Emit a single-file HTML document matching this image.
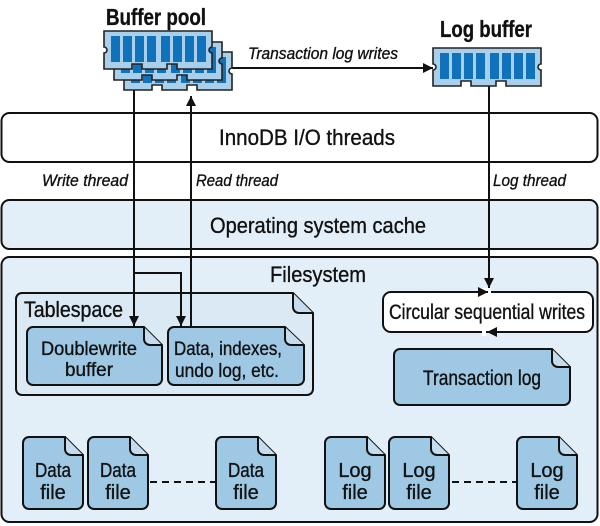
<!DOCTYPE html>
<html><head><meta charset="utf-8"><style>
html,body{margin:0;padding:0;background:#fff;}
svg{display:block;}
text{font-family:"Liberation Sans",sans-serif;fill:#111;stroke:#111;stroke-width:0.35;}
</style></head><body>
<svg width="600" height="526" viewBox="0 0 600 526" xmlns="http://www.w3.org/2000/svg">
<defs>
<marker id="ah" viewBox="0 0 10 10" refX="10" refY="5" markerWidth="10" markerHeight="10" markerUnits="userSpaceOnUse" orient="auto"><path d="M0,0 L10,5 L0,10 z" fill="#111"/></marker>
<g id="chip">
  <path d="M0,0 H108 V16 a3,3 0 0 0 0,6 V38 H73 V33 H63 V38 H38 V33 H28 V38 H0 V22 a3,3 0 0 0 0,-6 Z" fill="#a9cfea" stroke="#222" stroke-width="1.6"/>
  <rect x="7" y="5" width="9" height="26" fill="#0f72ba"/>
  <rect x="19" y="5" width="9" height="26" fill="#0f72ba"/>
  <rect x="31" y="5" width="9" height="26" fill="#0f72ba"/>
  <rect x="43" y="5" width="9" height="26" fill="#0f72ba"/>
  <rect x="57" y="5" width="9" height="26" fill="#0f72ba"/>
  <rect x="69" y="5" width="9" height="26" fill="#0f72ba"/>
  <rect x="81" y="5" width="9" height="26" fill="#0f72ba"/>
  <rect x="93" y="5" width="9" height="26" fill="#0f72ba"/>
</g>
</defs>

<rect x="1.5" y="113" width="596" height="49" rx="8" fill="#fff" stroke="#111" stroke-width="2"/>
<text x="307" y="145" font-size="22" text-anchor="middle" textLength="176" lengthAdjust="spacingAndGlyphs">InnoDB I/O threads</text>
<rect x="1.5" y="200" width="596" height="49" rx="8" fill="#e3eff8" stroke="#111" stroke-width="2"/>
<text x="318" y="233" font-size="22" text-anchor="middle" textLength="216" lengthAdjust="spacingAndGlyphs">Operating system cache</text>
<rect x="1.5" y="257" width="596" height="265" rx="8" fill="#e3eff8" stroke="#111" stroke-width="2"/>
<text x="318" y="282" font-size="22" text-anchor="middle" textLength="96" lengthAdjust="spacingAndGlyphs">Filesystem</text>

<text x="128" y="186" font-size="17" font-style="italic" text-anchor="end" textLength="86" lengthAdjust="spacingAndGlyphs">Write thread</text>
<text x="196" y="186" font-size="17" font-style="italic" textLength="82" lengthAdjust="spacingAndGlyphs">Read thread</text>
<text x="493" y="186" font-size="17" font-style="italic" textLength="73" lengthAdjust="spacingAndGlyphs">Log thread</text>

<path d="M22,293 H293 L313,313 V389 a6,6 0 0 1 -6,6 H22 a6,6 0 0 1 -6,-6 V299 a6,6 0 0 1 6,-6 Z" fill="#dbe9f4" stroke="#111" stroke-width="2"/>
<path d="M293,293 V307 a6,6 0 0 0 6,6 H313" fill="#c4dcee" stroke="#111" stroke-width="2"/>
<text x="24" y="317" font-size="22" textLength="99" lengthAdjust="spacingAndGlyphs">Tablespace</text>

<path d="M33,327 H144 L162,345 V379 a6,6 0 0 1 -6,6 H33 a6,6 0 0 1 -6,-6 V333 a6,6 0 0 1 6,-6 Z" fill="#9ec8e4" stroke="#111" stroke-width="2"/>
<path d="M144,327 V339 a6,6 0 0 0 6,6 H162" fill="#c4dcee" stroke="#111" stroke-width="2"/>
<text x="89" y="355" font-size="19" text-anchor="middle" textLength="96" lengthAdjust="spacingAndGlyphs">Doublewrite</text>
<text x="89" y="376" font-size="19" text-anchor="middle" textLength="48" lengthAdjust="spacingAndGlyphs">buffer</text>
<path d="M174,327 H285 L304,345 V379 a6,6 0 0 1 -6,6 H174 a6,6 0 0 1 -6,-6 V333 a6,6 0 0 1 6,-6 Z" fill="#9ec8e4" stroke="#111" stroke-width="2"/>
<path d="M285,327 V339 a6,6 0 0 0 6,6 H304" fill="#c4dcee" stroke="#111" stroke-width="2"/>
<text x="174" y="355" font-size="19" textLength="108" lengthAdjust="spacingAndGlyphs">Data, indexes,</text>
<text x="175" y="377" font-size="19" textLength="104" lengthAdjust="spacingAndGlyphs">undo log, etc.</text>

<rect x="383" y="292" width="210" height="40" rx="8" fill="#fff" stroke="#111" stroke-width="2"/>
<rect x="480" y="288" width="11" height="8" fill="#fff"/>
<rect x="482" y="328" width="4" height="8" fill="#fff"/>
<line x1="440" y1="292" x2="488" y2="292" stroke="#111" stroke-width="2" marker-end="url(#ah)"/>
<line x1="540" y1="332" x2="487" y2="332" stroke="#111" stroke-width="2" marker-end="url(#ah)"/>
<text x="487" y="319" font-size="21" text-anchor="middle" textLength="196" lengthAdjust="spacingAndGlyphs">Circular sequential writes</text>

<path d="M400,349 H552 L570,367 V399 a6,6 0 0 1 -6,6 H400 a6,6 0 0 1 -6,-6 V355 a6,6 0 0 1 6,-6 Z" fill="#9ec8e4" stroke="#111" stroke-width="2"/>
<path d="M552,349 V361 a6,6 0 0 0 6,6 H570" fill="#c4dcee" stroke="#111" stroke-width="2"/>
<text x="482" y="385" font-size="21" text-anchor="middle" textLength="118" lengthAdjust="spacingAndGlyphs">Transaction log</text>

<g stroke="#111" stroke-width="2">
<line x1="150" y1="482" x2="216" y2="482" stroke-dasharray="7,5"/>
<line x1="452" y1="482" x2="517" y2="482" stroke-dasharray="7,5"/>
</g>
<g id="f1">
<path d="M29,437 H65 L83,455 V503 a6,6 0 0 1 -6,6 H29 a6,6 0 0 1 -6,-6 V443 a6,6 0 0 1 6,-6 Z" fill="#9ec8e4" stroke="#111" stroke-width="2"/>
<path d="M65,437 V449 a6,6 0 0 0 6,6 H83" fill="#c4dcee" stroke="#111" stroke-width="2"/>
</g>
<use href="#f1" x="65"/>
<use href="#f1" x="193"/>
<use href="#f1" x="302"/>
<use href="#f1" x="366"/>
<use href="#f1" x="494"/>
<g font-size="20" text-anchor="middle">
<text x="53" y="477" textLength="36" lengthAdjust="spacingAndGlyphs">Data</text><text x="53" y="499">file</text>
<text x="118" y="477" textLength="36" lengthAdjust="spacingAndGlyphs">Data</text><text x="118" y="499">file</text>
<text x="246" y="477" textLength="36" lengthAdjust="spacingAndGlyphs">Data</text><text x="246" y="499">file</text>
<text x="355" y="477">Log</text><text x="355" y="499">file</text>
<text x="419" y="477">Log</text><text x="419" y="499">file</text>
<text x="547" y="477">Log</text><text x="547" y="499">file</text>
</g>

<g stroke="#111" stroke-width="2" fill="none">
<line x1="134" y1="90" x2="134" y2="326" marker-end="url(#ah)"/>
<polyline points="134,273 181,273 181,326" marker-end="url(#ah)"/>
<line x1="191" y1="327" x2="191" y2="96" marker-end="url(#ah)"/>
<line x1="489" y1="86" x2="489" y2="288" marker-end="url(#ah)"/>
<line x1="232" y1="68" x2="433" y2="68" marker-end="url(#ah)"/>
</g>

<use href="#chip" x="124" y="52"/>
<use href="#chip" x="114" y="42"/>
<use href="#chip" x="104" y="31"/>
<use href="#chip" x="433" y="48"/>

<text x="156" y="25" font-size="23" font-weight="bold" text-anchor="middle" textLength="100" lengthAdjust="spacingAndGlyphs">Buffer pool</text>
<text x="486" y="37" font-size="23" font-weight="bold" text-anchor="middle" textLength="92" lengthAdjust="spacingAndGlyphs">Log buffer</text>
<text x="323" y="59" font-size="17" font-style="italic" text-anchor="middle" textLength="150" lengthAdjust="spacingAndGlyphs">Transaction log writes</text>
</svg>
</body></html>
